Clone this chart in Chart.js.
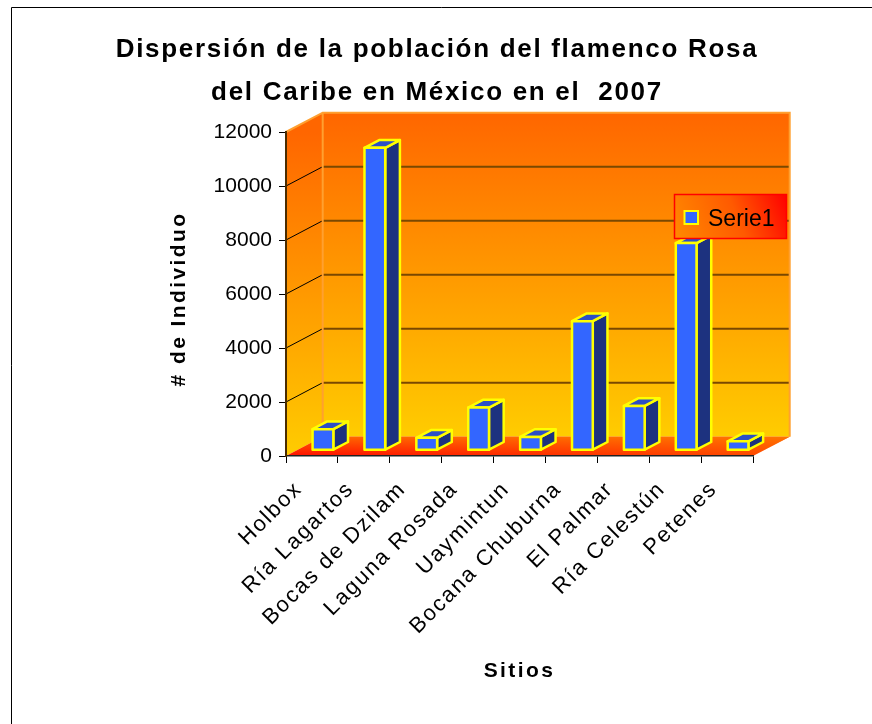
<!DOCTYPE html>
<html>
<head>
<meta charset="utf-8">
<title>Dispersión de la población del flamenco Rosa</title>
<script src="https://cdn.jsdelivr.net/npm/chart.js@4/dist/chart.umd.min.js"></script>
<style>
  html, body { margin: 0; padding: 0; background: #fff; }
  #wrap { width: 872px; height: 724px; }
</style>
</head>
<body>
<div id="wrap"><canvas id="chart" width="872" height="724"></canvas></div>
<script>
// ---- data ----
const TITLE_LINES = ["Dispersión de la población del flamenco Rosa", "del Caribe en México en el  2007"];
const SITES = [
  "Holbox", "Ría Lagartos", "Bocas de Dzilam", "Laguna Rosada", "Uaymintun",
  "Bocana Chuburna", "El Palmar", "Ría Celestún", "Petenes"
];
const INDIVIDUOS = [780, 11200, 460, 1580, 490, 4780, 1640, 7670, 330];
const Y_TICKS = [0, 2000, 4000, 6000, 8000, 10000, 12000];
const SERIES_NAME = "Serie1";
const Y_TITLE = "# de Individuo";
const X_TITLE = "Sitios";

// ---- look ----
const FONT = "'Liberation Sans', Arial, sans-serif";
const DX = 36.7, DY = -19.3;   // depth of the 3d box
const F0 = 0.3, F1 = 0.7;      // bars sit in the middle of the depth

function poly(ctx, pts) {
  ctx.beginPath();
  ctx.moveTo(pts[0][0], pts[0][1]);
  for (let i = 1; i < pts.length; i++) ctx.lineTo(pts[i][0], pts[i][1]);
  ctx.closePath();
}

function spacedText(ctx, text, x, y, spacing) {
  if ("letterSpacing" in ctx) ctx.letterSpacing = spacing + "px";
  ctx.fillText(text, x, y);
  if ("letterSpacing" in ctx) ctx.letterSpacing = "0px";
}

const scene3d = {
  id: "scene3d",
  beforeDraw(chart) {
    const { ctx, chartArea: a, scales: { y } } = chart;
    ctx.save();

    // back wall
    let g = ctx.createLinearGradient(0, a.top + DY, 0, a.bottom + DY);
    g.addColorStop(0, "#ff6600");
    g.addColorStop(1, "#ffcc00");
    ctx.fillStyle = g;
    ctx.fillRect(a.left + DX, a.top + DY, a.right - a.left, a.bottom - a.top);

    // side wall
    g = ctx.createLinearGradient(0, a.top, 0, a.bottom);
    g.addColorStop(0, "#ff6600");
    g.addColorStop(1, "#ffcc00");
    ctx.fillStyle = g;
    poly(ctx, [[a.left, a.top], [a.left + DX, a.top + DY], [a.left + DX, a.bottom + DY], [a.left, a.bottom]]);
    ctx.fill();

    // floor
    const floor = [[a.left, a.bottom], [a.left + DX, a.bottom + DY], [a.right + DX, a.bottom + DY], [a.right, a.bottom]];
    g = ctx.createLinearGradient(a.left, 0, a.right + DX, 0);
    g.addColorStop(0, "#ff1000");
    g.addColorStop(1, "#ff4c00");
    ctx.fillStyle = g;
    poly(ctx, floor);
    ctx.fill();
    g = ctx.createLinearGradient(0, a.bottom, 0, a.bottom + DY);
    g.addColorStop(0, "rgba(255,120,0,0)");
    g.addColorStop(1, "rgba(255,130,0,0.75)");
    ctx.fillStyle = g;
    poly(ctx, floor);
    ctx.fill();

    // grid lines on the walls
    y.ticks.forEach(t => {
      if (t.value === y.min || t.value === y.max) return;
      const py = y.getPixelForValue(t.value);
      ctx.strokeStyle = "#7a4800";
      ctx.lineWidth = 2;
      ctx.beginPath();
      ctx.moveTo(a.left + DX, py + DY);
      ctx.lineTo(a.right + DX, py + DY);
      ctx.stroke();
      ctx.strokeStyle = "#000";
      ctx.lineWidth = 1;
      ctx.beginPath();
      ctx.moveTo(a.left, py);
      ctx.lineTo(a.left + DX, py + DY);
      ctx.stroke();
    });

    // light edges of the walls
    ctx.strokeStyle = "#ffa030";
    ctx.lineWidth = 2;
    ctx.beginPath();
    ctx.moveTo(a.left, a.top);
    ctx.lineTo(a.left + DX, a.top + DY);
    ctx.lineTo(a.right + DX, a.top + DY);
    ctx.lineTo(a.right + DX, a.bottom + DY);
    ctx.moveTo(a.left + DX, a.top + DY);
    ctx.lineTo(a.left + DX, a.bottom + DY);
    ctx.stroke();

    ctx.restore();
  },

  afterDatasetsDraw(chart) {
    const ctx = chart.ctx;
    const meta = chart.getDatasetMeta(0);
    const ox = DX * F0, oy = DY * F0;
    const dx = DX * (F1 - F0), dy = DY * (F1 - F0);
    ctx.save();
    ctx.lineWidth = 2.5;
    ctx.lineJoin = "round";
    ctx.strokeStyle = "#ffff00";
    meta.data.forEach(bar => {
      const { x, y, base, width } = bar.getProps(["x", "y", "base", "width"], true);
      const l = x - width / 2 + ox, r = x + width / 2 + ox;
      const t = y + oy, b = base + oy;
      // side
      poly(ctx, [[r, t], [r + dx, t + dy], [r + dx, b + dy], [r, b]]);
      ctx.fillStyle = "#1d327f";
      ctx.fill(); ctx.stroke();
      // top
      poly(ctx, [[l, t], [l + dx, t + dy], [r + dx, t + dy], [r, t]]);
      ctx.fillStyle = "#2c4fc6";
      ctx.fill(); ctx.stroke();
      // front
      ctx.beginPath();
      ctx.rect(l, t, r - l, b - t);
      ctx.fillStyle = "#3366ff";
      ctx.fill(); ctx.stroke();
    });
    ctx.restore();
  },

  afterDraw(chart) {
    const { ctx, chartArea: a, scales: { x } } = chart;
    ctx.save();
    ctx.fillStyle = "#000";

    // outer frame (runs off the right and bottom)
    ctx.strokeStyle = "#000";
    ctx.lineWidth = 1;
    ctx.beginPath();
    ctx.moveTo(11.5, 724);
    ctx.lineTo(11.5, 7.5);
    ctx.lineTo(872, 7.5);
    ctx.stroke();

    // title
    ctx.font = "bold 26px " + FONT;
    ctx.textAlign = "center";
    ctx.textBaseline = "alphabetic";
    spacedText(ctx, TITLE_LINES[0], 437, 57, 1.7);
    spacedText(ctx, TITLE_LINES[1], 437, 100, 1.7);

    // category labels, rotated
    ctx.font = "22px " + FONT;
    ctx.textAlign = "right";
    SITES.forEach((s, i) => {
      const px = x.getPixelForValue(i);
      ctx.save();
      ctx.translate(px - 9, a.bottom + 34);
      ctx.rotate(-Math.PI / 4);
      spacedText(ctx, s, 0, 0, 1.8);
      ctx.restore();
    });

    // axis titles
    ctx.font = "bold 21px " + FONT;
    ctx.textAlign = "center";
    spacedText(ctx, X_TITLE, (a.left + a.right) / 2, 677, 2.4);
    ctx.save();
    ctx.translate(185, 299);
    ctx.rotate(-Math.PI / 2);
    spacedText(ctx, Y_TITLE, 0, 0, 2.4);
    ctx.restore();

    // legend
    const lx = 674.5, ly = 194.5, lw = 112, lh = 44;
    const g = ctx.createLinearGradient(lx, ly + lh, lx + lw, ly);
    g.addColorStop(0, "#ff8a00");
    g.addColorStop(0.55, "#ff5a00");
    g.addColorStop(1, "#ff0000");
    ctx.fillStyle = g;
    ctx.fillRect(lx, ly, lw, lh);
    ctx.strokeStyle = "#ff0000";
    ctx.lineWidth = 1.5;
    ctx.strokeRect(lx, ly, lw, lh);
    ctx.fillStyle = "#3366ff";
    ctx.fillRect(684.5, 211, 13.5, 13);
    ctx.strokeStyle = "#ffff00";
    ctx.lineWidth = 2;
    ctx.strokeRect(684.5, 211, 13.5, 13);
    ctx.fillStyle = "#000";
    ctx.font = "23px " + FONT;
    ctx.textAlign = "left";
    ctx.fillText(SERIES_NAME, 708, 225.5);

    ctx.restore();
  }
};

new Chart(document.getElementById("chart"), {
  type: "bar",
  data: {
    labels: SITES,
    datasets: [{
      label: SERIES_NAME,
      data: INDIVIDUOS,
      backgroundColor: "rgba(0,0,0,0)",
      borderWidth: 0,
      categoryPercentage: 1,
      barPercentage: 0.4
    }]
  },
  options: {
    responsive: false,
    devicePixelRatio: 1,
    animation: false,
    events: [],
    layout: { padding: { left: 0, top: 132, right: 119, bottom: 0 } },
    plugins: {
      legend: { display: false },
      title: { display: false },
      tooltip: { enabled: false }
    },
    scales: {
      x: {
        grid: { offset: true, drawOnChartArea: false, drawTicks: true, tickLength: 7, color: "#000" },
        border: { display: true, color: "#222", width: 1.5 },
        ticks: { display: false },
        afterFit: s => { s.height = 268; }
      },
      y: {
        min: 0,
        max: 12000,
        afterBuildTicks: s => { s.ticks = Y_TICKS.map(v => ({ value: v })); },
        grid: { drawOnChartArea: false, drawTicks: true, tickLength: 7, color: "#000" },
        border: { display: true, color: "#4a2c00", width: 2 },
        ticks: {
          color: "#000",
          padding: 7,
          font: { family: FONT, size: 21 },
          callback: v => String(v)
        },
        afterFit: s => { s.width = 286; }
      }
    }
  },
  plugins: [scene3d]
});
</script>
</body>
</html>
